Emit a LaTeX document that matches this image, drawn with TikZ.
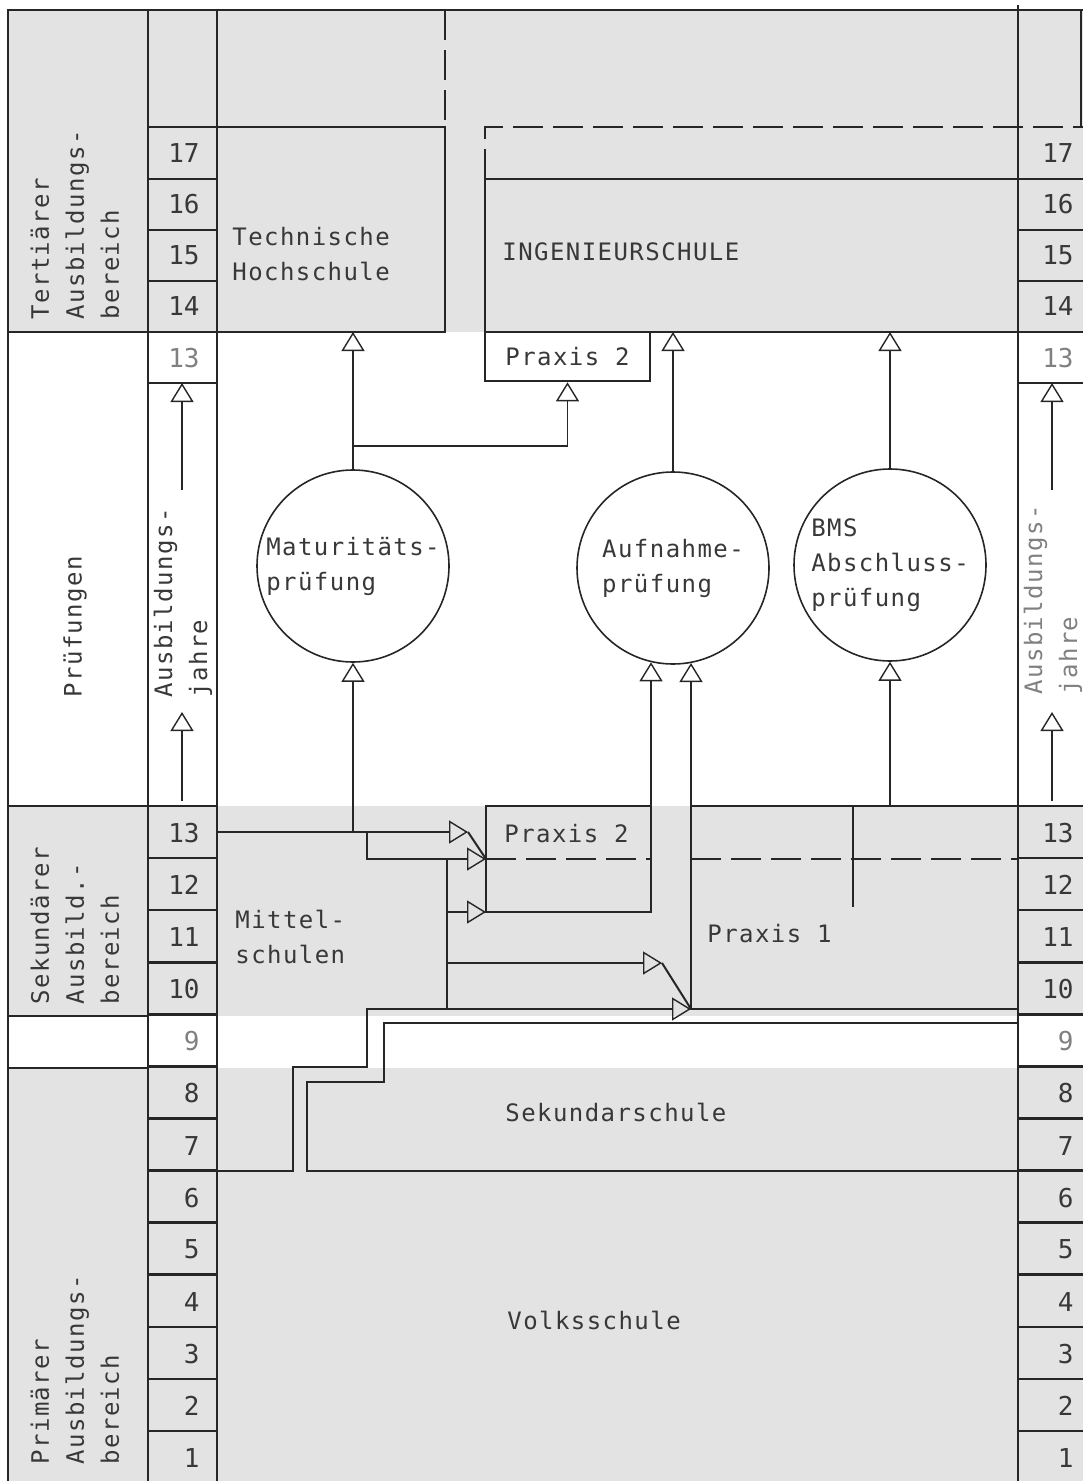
\documentclass[tikz,border=0pt]{standalone}
\usepackage{fontspec}
\usetikzlibrary{arrows.meta}
\newfontfamily\plotfont[LetterSpace=6]{DejaVu Sans Mono}
\newfontfamily\digitfont{DejaVu Sans Mono}
\definecolor{bandgray}{gray}{0.89}
\definecolor{ink}{gray}{0.15}
\definecolor{textink}{gray}{0.22}
\definecolor{faint}{gray}{0.5}

\begin{document}
\begin{tikzpicture}[x=0.5pt,y=-0.5pt,
  boxline/.style={draw=ink, line width=1.3pt},
  thinline/.style={draw=ink, line width=0.6pt},
  midline/.style={draw=ink, line width=1pt},
  dashline/.style={draw=ink, line width=1.3pt, dash pattern=on 15pt off 5pt},
  opentip/.style={-{Triangle[open,length=9.5pt,width=11.5pt,line width=0.7pt]}},
  txt/.style={text=textink, font=\plotfont\fontsize{12}{17.5}\selectfont, inner sep=0pt, align=left},
  sidetxt/.style={txt, rotate=90, anchor=west},
  yearno/.style={text=textink, font=\digitfont\fontsize{13}{14}\selectfont, inner sep=0pt, anchor=east},
  exam/.style={circle, draw=ink, line width=0.8pt, minimum size=96pt, txt}]
\useasboundingbox (0,0) rectangle (1083,1481);

% grey bands: tertiary, secondary, primary
\fill[bandgray] (8,10) rectangle (1083,332);
\fill[bandgray] (8,806) rectangle (1083,1016);
\fill[bandgray] (8,1068) rectangle (1083,1481);

% frame and columns
\draw[boxline] (8,1481) -- (8,10) -- (1083,10);
\draw[boxline] (148,10) -- (148,1481);
\draw[boxline] (217,10) -- (217,1481);
\draw[boxline] (1018,5) -- (1018,1481);
\draw[boxline] (1081,10) -- (1081,127);
\draw[boxline] (8,332) -- (148,332);
\draw[boxline] (8,806) -- (148,806);
\draw[boxline] (8,1016) -- (148,1016);
\draw[boxline] (8,1068) -- (148,1068);

% year cells
\foreach \y in {127,179,230,281,332,383}{
  \draw[boxline] (148,\y) -- (217,\y);
}
\foreach \y in {179,230,281,332,383}{
  \draw[boxline] (1018,\y) -- (1083,\y);
}
\foreach \k in {0,...,12}{
  \pgfmathsetmacro\y{806+52.08*\k}
  \draw[boxline] (148,\y) -- (217,\y) (1018,\y) -- (1083,\y);
}

% year numbers
\foreach \n in {14,...,17}{
  \pgfmathsetmacro\yc{332-51.2*(\n-13)+25.6}
  \node[yearno] (lu\n) at (200,\yc) {\n};
  \node[yearno] (ru\n) at (1074,\yc) {\n};
}
\node[yearno, text=faint] (lu13) at (200,357.6) {13};
\node[yearno, text=faint] (ru13) at (1074,357.6) {13};
\foreach \n in {1,...,13}{
  \pgfmathsetmacro\yc{1458-52.08*(\n-1)}
  \ifnum\n=9 \def\nc{faint}\else\def\nc{textink}\fi
  \node[yearno, text=\nc] (ll\n) at (200,\yc) {\n};
  \node[yearno, text=\nc] (rl\n) at (1074,\yc) {\n};
}

% side labels
\node[sidetxt] (ter) at (75,320) {Tertiärer\\Ausbildungs-\\bereich};
\node[sidetxt] (pru) at (75,698) {Prüfungen};
\node[sidetxt] (jl) at (183,698) {Ausbildungs-\\jahre};
\node[sidetxt, text=faint] (jr) at (1053,695) {Ausbildungs-\\jahre};
\node[sidetxt] (sekl) at (75,1005) {Sekundärer\\Ausbild.-\\bereich};
\node[sidetxt] (pri) at (75,1465) {Primärer\\Ausbildungs-\\bereich};

% Ausbildungsjahre arrows
\coordinate (jl1) at (182,490); \coordinate (jl2) at (182,383);
\coordinate (jl3) at (182,801); \coordinate (jl4) at (182,712);
\coordinate (jr1) at (1052,490); \coordinate (jr2) at (1052,383);
\coordinate (jr3) at (1052,801); \coordinate (jr4) at (1052,712);
\draw[thinline, opentip] (jl1) -- (jl2);
\draw[thinline, opentip] (jl3) -- (jl4);
\draw[thinline, opentip] (jr1) -- (jr2);
\draw[thinline, opentip] (jr3) -- (jr4);

% tertiary schools
\draw[boxline] (217,127) -- (445,127) -- (445,332) -- (217,332);
\draw[dashline] (445,10) -- (445,127);
\draw[dashline] (485,179) -- (485,127) -- (1083,127);
\draw[boxline] (1018,179) -- (485,179) -- (485,332) -- (1018,332);
\node[txt, anchor=west] (th) at (232,254) {Technische\\Hochschule};
\node[txt, anchor=west] (ing) at (502,252) {INGENIEURSCHULE};
\node[txt, boxline, fill=white, align=center, minimum width=82.5pt, minimum height=24.5pt] (p2a) at (567.5,356.5) {Praxis 2};

% examinations
\node[exam] (mat) at (353,566) {Maturitäts-\\prüfung};
\node[exam] (auf) at (673,568) {Aufnahme-\\prüfung};
\node[exam] (bms) at (890,565) {BMS\\Abschluss-\\prüfung};

\coordinate (thb) at (353,332);
\coordinate (fork) at (353,446);
\coordinate (ingb1) at (673,332);
\coordinate (ingb2) at (890,332);
\draw[thinline, opentip] (mat) -- (thb);
\draw[thinline, opentip] (fork) -| (p2a.south);
\draw[thinline, opentip] (auf) -- (ingb1);
\draw[thinline, opentip] (bms) -- (ingb2);

% secondary schools
\draw[boxline] (217,832) -- (367,832) -- (367,859) -- (447,859) -- (447,1009)
  -- (367,1009) -- (367,1067) -- (293,1067) -- (293,1171) -- (217,1171);
\draw[boxline] (486,806) rectangle (651,912);
\draw[dashline] (486,859) -- (651,859);
\draw[boxline] (1018,806) -- (691,806) -- (691,1009) -- (1018,1009);
\draw[dashline] (691,859) -- (1018,859);
\draw[boxline] (853,806) -- (853,907);
\draw[boxline] (1018,1023) -- (384,1023) -- (384,1082) -- (307,1082) -- (307,1171) -- (1018,1171);
\node[txt, anchor=west] (mit) at (235,937) {Mittel-\\schulen};
\node[txt, anchor=west] (p2b) at (504,834) {Praxis 2};
\node[txt, anchor=west] (p1) at (707,934) {Praxis 1};
\node[txt, anchor=west] (sek) at (505,1112) {Sekundarschule};
\node[txt, anchor=west] (vol) at (507,1320) {Volksschule};

% into the examinations
\coordinate (mitt) at (353,832);
\coordinate (p2bne) at (651,806);
\coordinate (p1nw) at (691,806);
\coordinate (p1t) at (890,806);
\draw[thinline, opentip] (mitt) -- (mat);
\draw[thinline, opentip] (p2bne) -- (p2bne |- auf.-103);
\draw[thinline, opentip] (p1nw) -- (p1nw |- auf.-79);
\draw[thinline, opentip] (p1t) -- (bms);

% Mittelschulen to Praxis
\coordinate (ma) at (367,832); \coordinate (mb) at (447,859);
\coordinate (mc) at (447,912); \coordinate (md) at (447,963);
\coordinate (me) at (447,1009);
\coordinate (bend1) at (468,832); \coordinate (bend2) at (662,963);
\coordinate (p2bw) at (486,859); \coordinate (p2bsw) at (486,912);
\coordinate (p1sw) at (691,1009);
\draw[midline, opentip] (ma) -- (bend1);
\draw[midline] (bend1) -- (p2bw);
\draw[midline, opentip] (mb) -- (p2bw);
\draw[midline, opentip] (mc) -- (p2bsw);
\draw[midline, opentip] (md) -- (bend2);
\draw[midline] (bend2) -- (p1sw);
\draw[midline, opentip] (me) -- (p1sw);
\end{tikzpicture}
\end{document}
